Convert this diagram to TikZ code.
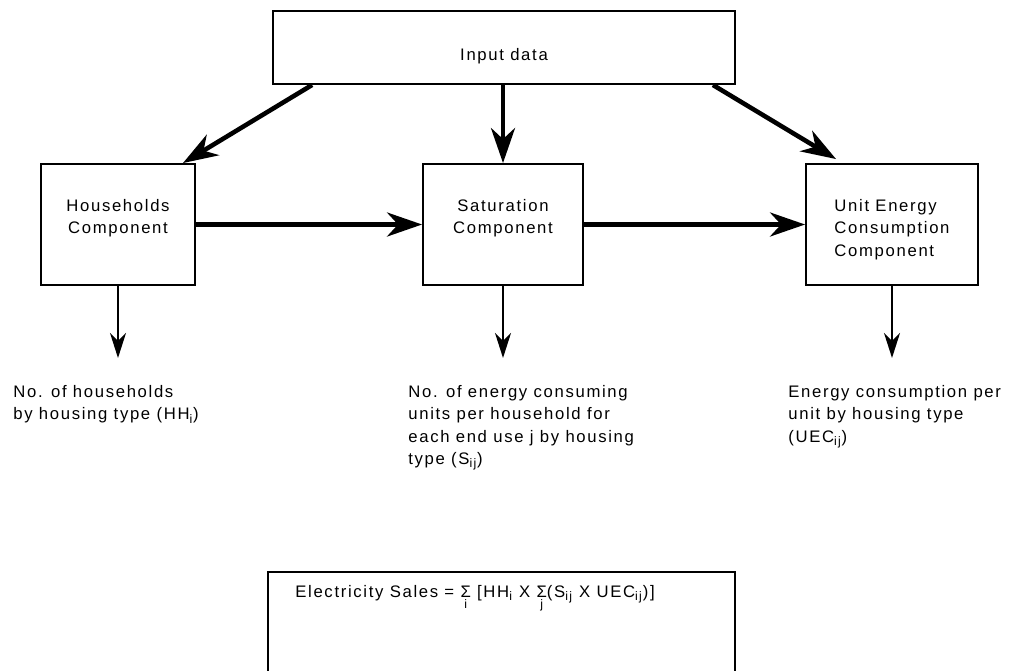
\documentclass[tikz,border=0pt]{standalone}
\usepackage{fontspec}
\setmainfont[LetterSpace=10]{Liberation Sans}
\usetikzlibrary{arrows.meta,positioning,calc}
\newcommand{\idx}[1]{\ensuremath{_{\mbox{\fontsize{7}{8}\selectfont #1}}}}
\newcommand{\sumover}[1]{\ensuremath{\mathop{\mbox{Σ}}\limits_{\mbox{\fontsize{7}{8}\selectfont #1}}}}
\begin{document}
\begin{tikzpicture}[
            x=0.02cm, y=-0.02cm,
            font=\fontsize{9.5}{12.7}\selectfont,
            box/.style={draw, line width=1.1pt, inner sep=0pt},
            boxtext/.style={align=center, inner sep=0pt},
            outtext/.style={align=left, anchor=north west, inner sep=0pt},
            heavy/.style={line width=2.6pt, -{Stealth[length=7mm, width=4.8mm, inset=2.2mm]}},
            light/.style={line width=1.3pt, -{Stealth[length=5mm, width=3.2mm, inset=1.6mm]}}
        ]
        \useasboundingbox (0,0) rectangle (1016,670);
        \clip (0,0) rectangle (1016,670);
        \node[box, minimum width=9.24cm, minimum height=1.46cm] (input) at (504,47.5) {};
        \node[boxtext] (inputtext) at ([yshift=-1.8mm]input.center) {Input data};
        \node[box, minimum width=3.08cm, minimum height=2.42cm] (hh) at (118,224.5) {};
        \node[boxtext] (hhtext) at ([yshift=1.2mm]hh.center) {Households\\Component};
        \node[box, minimum width=3.2cm, minimum height=2.42cm] (sat) at (503,224.5) {};
        \node[boxtext] (sattext) at ([yshift=1.2mm]sat.center) {Saturation\\Component};
        \node[box, minimum width=3.44cm, minimum height=2.42cm] (uec) at (892,224.5) {};
        \node[boxtext, align=left] (uectext) at ([yshift=-1mm]uec.center) {Unit Energy\\Consumption\\Component};
        \draw[heavy] ($(input.south west)+(40,0)$) -- ($(hh.north east)+(-13,0)$);
        \draw[heavy] (sat.north |- input.south) -- (sat.north);
        \draw[heavy] ($(input.south east)+(-23,0)$) -- ($(uec.north west)+(31,-4)$);
        \draw[heavy] (hh.east) -- (sat.west);
        \draw[heavy] (sat.east) -- (uec.west);
        \coordinate (hhtip) at ($(hh.south)+(0,72)$);
        \coordinate (sattip) at ($(sat.south)+(0,72)$);
        \coordinate (uectip) at ($(uec.south)+(0,72)$);
        \draw[light] (hh.south) -- (hhtip);
        \draw[light] (sat.south) -- (sattip);
        \draw[light] (uec.south) -- (uectip);
        \node[outtext] (hhout) at (13,385) {No. of households\\by housing type (HH\idx{i})};
        \node[outtext] (satout) at (408,385) {No. of energy consuming\\units per household for\\each end use j by housing\\type (S\idx{ij})};
        \node[outtext] (uecout) at (788,385) {Energy consumption per\\unit by housing type\\(UEC\idx{ij})};
        \draw[box] (268,572) rectangle (735,700);
        \node[anchor=base] (sales) at (475,597) {Electricity Sales = \sumover{i} [HH\idx{i} X \sumover{j}(S\idx{ij} X UEC\idx{ij})]};
    \end{tikzpicture}
\end{document}
